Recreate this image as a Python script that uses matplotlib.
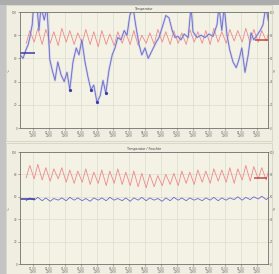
import numpy as np
import matplotlib
matplotlib.use("Agg")
import matplotlib.pyplot as plt
from matplotlib.patches import Rectangle

# ---------------- data ----------------
tick_days = list(range(0, 29, 2))
tick_labels = ["%02d.03.\n2009" % (d // 2 + 1) for d in tick_days]
y_ticks = [0, 20, 40, 60, 80, 100]

days = list(range(-1, 30))  # one cycle per day

# top panel, red series: daily maxima / minima
red_top_max = [84, 86, 85, 83, 86, 84, 82, 85, 83, 84, 81, 83, 82, 84, 80, 82,
               85, 83, 84, 82, 85, 83, 84, 86, 83, 85, 84, 86, 85, 84, 85]
red_top_min = [73, 74, 72, 73, 71, 74, 72, 73, 72, 70, 72, 71, 73, 72, 71, 73,
               72, 74, 72, 73, 72, 74, 73, 72, 74, 73, 75, 74, 73, 74, 75]

# top panel, blue series
blue_top_t = [-1.6, -1.25, -0.9, -0.6, -0.4, -0.1, 0.1, 0.5, 0.75, 1.0, 1.4, 1.75,
              2.1, 2.4, 2.75, 3.1, 3.5, 3.9, 4.25, 4.6, 5.0, 5.4, 5.75, 6.1, 6.5,
              6.9, 7.25, 7.6, 8.0, 8.4, 8.75, 9.1, 9.5, 9.9, 10.25, 10.6, 11.0,
              11.4, 11.75, 12.1, 12.5, 12.9, 13.25, 13.6, 14.0, 14.4, 14.9, 15.4,
              15.75, 16.25, 16.6, 17.0, 17.4, 17.75, 18.1, 18.5, 18.9, 19.4, 19.75,
              20.0, 20.5, 21.0, 21.5, 22.0, 22.5, 23.0, 23.25, 23.6, 23.9, 24.25,
              24.6, 25.0, 25.4, 25.75, 26.1, 26.5, 26.9, 27.25, 27.6, 28.0, 28.4,
              28.75, 29.1, 29.4]
blue_top_v = [63, 60, 67, 72, 78, 89, 108, 105, 84, 105, 93, 104,
              59, 50, 41, 57, 46, 40, 48, 33, 57, 69, 63, 76, 57,
              43, 33, 37, 22, 28, 41, 30, 50, 63, 69, 78, 76,
              84, 80, 97, 104, 86, 72, 63, 69, 60, 67, 74,
              78, 89, 97, 95, 84, 78, 79, 76, 81, 78, 105,
              83, 78, 80, 78, 81, 79, 89, 105, 84, 105, 80,
              67, 57, 52, 59, 69, 48, 63, 82, 76, 80, 84,
              89, 105, 93]
blue_dots_t = [4.6, 7.25, 8.0, 9.1, 12.5, 23.25]
blue_dots_v = [33, 33, 22, 30, 104, 105]

# bottom panel
red_bot_max = [88, 89, 86, 85, 86, 84, 83, 85, 82, 84, 83, 85, 82, 83, 81, 80,
               79, 80, 81, 83, 82, 84, 83, 85, 84, 86, 85, 88, 87, 86, 88]
red_bot_min = [77, 76, 75, 74, 76, 73, 72, 73, 71, 72, 70, 72, 71, 70, 69, 68,
               69, 70, 71, 70, 72, 71, 73, 72, 74, 73, 72, 75, 74, 76, 75]
blue_bot_max = [59, 59.5, 59, 58.5, 59, 59.5, 59, 58.5, 59, 59, 59.5, 58.5, 59, 59,
                59.5, 59, 58.5, 59, 59.5, 59, 59, 58.5, 59, 59.5, 59, 59, 60, 59.5,
                60, 60.5, 60]
blue_bot_min = [56.5, 57, 56.5, 56, 57, 56.5, 57, 56.5, 56, 57, 56.5, 57, 56.5, 56,
                57, 56.5, 57, 56, 56.5, 57, 56.5, 57, 56.5, 57, 56.5, 57, 57.5, 57,
                57.5, 58, 57.5]

# current-value marker segments
top_blue_seg = (-1.6, 0.25, 65)
top_red_seg = (27.75, 29.4, 76)
bot_blue_seg = (-1.6, 0.25, 58)
bot_red_seg = (27.6, 29.3, 77)

titles = ["Temperatur", "Temperatur / Feuchte"]

# ---------------- helpers ----------------
def cycle(days, mx, mn):
    t, v = [], []
    for d, a, b in zip(days, mx, mn):
        t += [d + 0.15, d + 0.6]
        v += [b, a]
    return t, v

BG = "#efeee0"
RED = "#ef8a8a"
BLUE = "#6a6acc"
DRED = "#c04848"
DBLUE = "#3a3aa8"

fig = plt.figure(figsize=(2.79, 2.74), dpi=100, facecolor=BG)

# frame
fig.patches.append(Rectangle((0, 0), 6 / 279, 1, transform=fig.transFigure,
                             facecolor="#c4c4c4", edgecolor="none", zorder=0))
fig.patches.append(Rectangle((0, 1 - 5 / 274), 1, 5 / 274, transform=fig.transFigure,
                             facecolor="#acacac", edgecolor="none", zorder=0))
fig.patches.append(Rectangle((6 / 279, 1 - 141 / 274), 266 / 279, 136 / 274,
                             transform=fig.transFigure, facecolor="none",
                             edgecolor="#d4d3c6", lw=0.6, zorder=0))
fig.patches.append(Rectangle((6 / 279, 0), 266 / 279, 131 / 274,
                             transform=fig.transFigure, facecolor="none",
                             edgecolor="#d4d3c6", lw=0.6, zorder=0))

rects = [[20 / 279, 1 - 128 / 274, 248 / 279, 116 / 274],
         [20 / 279, 1 - 264 / 274, 248 / 279, 112 / 274]]

def setup(ax, title):
    ax.set_facecolor("#f3f2e4")
    ax.set_xlim(-1.625, 29.375)
    ax.set_ylim(0, 100)
    ax.set_xticks(tick_days)
    ax.set_xticklabels(tick_labels, fontsize=2.0, color="#555555", linespacing=0.9)
    ax.set_yticks(y_ticks)
    ax.set_yticklabels([str(v) for v in y_ticks], fontsize=2.0, color="#555555")
    ax.tick_params(length=1.2, width=0.4, pad=0.8, colors="#666666")
    ax.grid(True, color="#dcdccf", lw=0.5)
    for s in ax.spines.values():
        s.set_color("#707070")
        s.set_linewidth(0.6)
    ax.set_ylabel("°C", fontsize=2.3, color="#555555", labelpad=1)
    ax.text(0.5, 1.01, title, transform=ax.transAxes, ha="center", va="bottom",
            fontsize=2.3, color="#444444")
    ax2 = ax.twinx()
    ax2.set_ylim(0, 100)
    ax2.set_yticks(y_ticks)
    ax2.set_yticklabels([str(v) for v in y_ticks], fontsize=2.0, color="#555555")
    ax2.tick_params(length=1.0, width=0.4, pad=0.6, colors="#666666")
    for s in ax2.spines.values():
        s.set_visible(False)
    ax.text(1.027, 0.5, "%", transform=ax.transAxes, ha="center", va="center",
            rotation=90, fontsize=2.3, color="#555555")
    return ax2

# top panel
ax1 = fig.add_axes(rects[0])
setup(ax1, titles[0])
t, v = cycle(days, red_top_max, red_top_min)
ax1.plot(t, v, color=RED, lw=0.6)
ax1.plot(blue_top_t, blue_top_v, color="#b8b8ec", lw=1.6, alpha=0.6)
ax1.plot(blue_top_t, blue_top_v, color=BLUE, lw=0.6)
ax1.plot(blue_dots_t, blue_dots_v, "o", color=DBLUE, ms=1.3)
ax1.hlines(top_blue_seg[2], top_blue_seg[0], top_blue_seg[1], color=DBLUE, lw=1.1)
ax1.hlines(top_red_seg[2], top_red_seg[0], top_red_seg[1], color=DRED, lw=1.1)

# bottom panel
ax3 = fig.add_axes(rects[1])
setup(ax3, titles[1])
t, v = cycle(days, red_bot_max, red_bot_min)
ax3.plot(t, v, color=RED, lw=0.6)
t, v = cycle(days, blue_bot_max, blue_bot_min)
ax3.plot(t, v, color=BLUE, lw=0.6)
ax3.hlines(bot_blue_seg[2], bot_blue_seg[0], bot_blue_seg[1], color=DBLUE, lw=1.1)
ax3.hlines(bot_red_seg[2], bot_red_seg[0], bot_red_seg[1], color=DRED, lw=1.1)

fig.savefig("out.png", dpi=100, facecolor=BG)
